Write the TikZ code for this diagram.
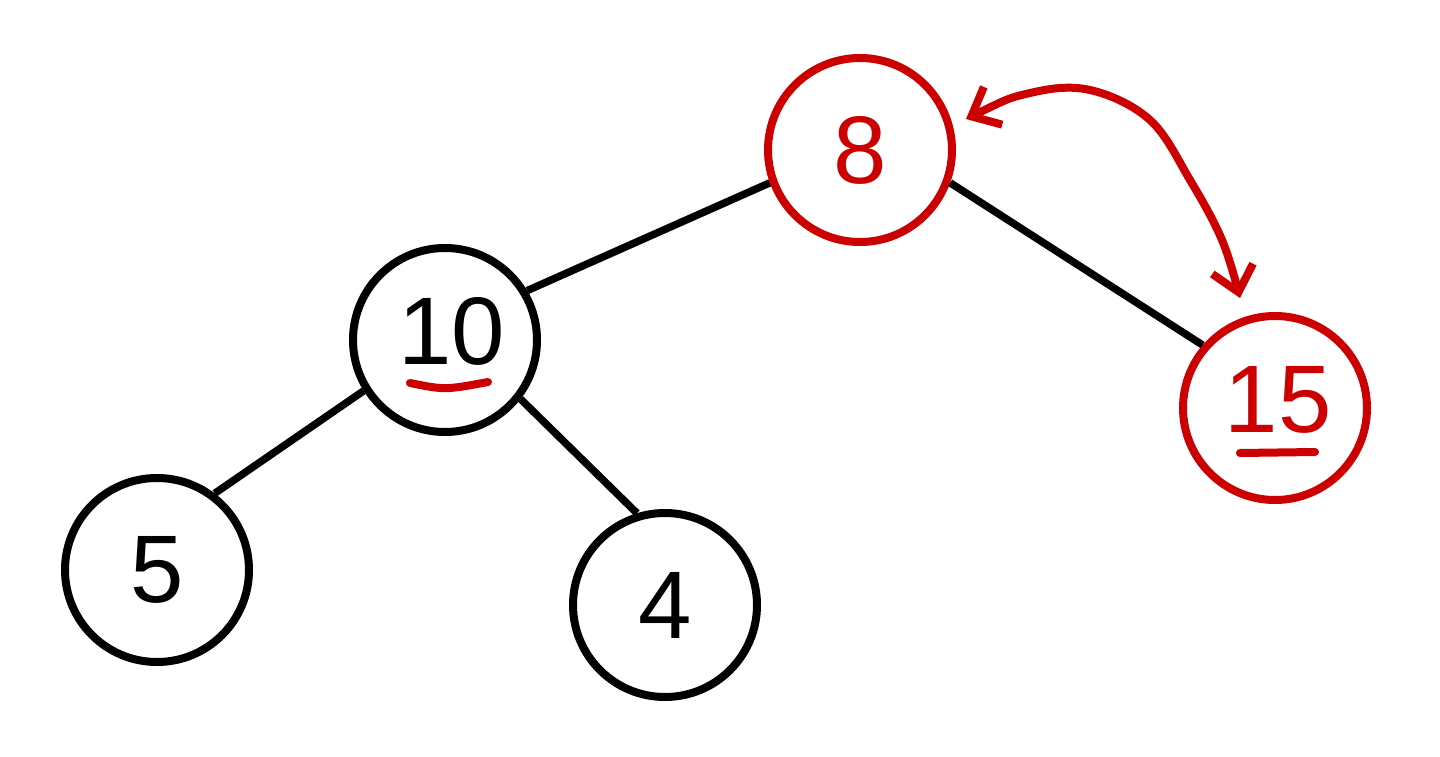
\documentclass[tikz,border=0pt]{standalone}
\usepackage{fontspec}
\setmainfont{Liberation Sans}
\usetikzlibrary{arrows.meta,calc}
\definecolor{penred}{RGB}{204,0,0}
\begin{document}
\begin{tikzpicture}[x=1pt,y=-1pt,
  treenode/.style={circle,draw=black,line width=8pt,minimum size=184pt,inner sep=0pt,
    font=\fontsize{96}{96}\selectfont},
  rednode/.style={treenode,draw=penred,text=penred},
  edge/.style={line width=7.5pt,black},
  redline/.style={line width=8pt,penred,line cap=round},
  swaparrow/.style={redline,line join=round,{Straight Barb[length=24pt,width=42pt]}-{Straight Barb[length=24pt,width=42pt]}}]
\useasboundingbox[fill=white] (0,0) rectangle (1440,757);
\node[rednode] (n8) at (860,150) {8};
\node[treenode] (n10) at (445,340) {};
\node[anchor=center,font=\fontsize{96}{96}\selectfont,inner sep=0pt] (t10) at (452,331) {10};
\node[rednode] (n15) at (1275,408) {};
\node[anchor=center,font=\fontsize{96}{96}\selectfont,inner sep=0pt,text=penred] (t15) at (1278,400) {15};
\node[treenode] (n5) at (157,570) {5};
\node[treenode] (n4) at (665,605) {4};
\draw[edge] (n8.-160) -- (n10.31);
\draw[edge] (n8.-20) -- (n15.139);
\draw[edge] (n10.-148) -- (n5.53);
\draw[edge] (n10.-38) -- (n4.107);
\draw[redline] ($(n10)+(-35,43)$) .. controls ($(n10)+(0,50)$) .. ($(n10)+(43,42)$);
\draw[redline] ($(n15)+(-35,45)$) -- ($(n15)+(40,44)$);
\coordinate (a1) at (966,119);
\coordinate (a2) at (1240,298);
\draw[swaparrow] plot[smooth,tension=0.6] coordinates {(a1) (1030,93) (1090,90) (1150,120) (1190,180) (1222,240) (a2)};
\end{tikzpicture}
\end{document}
